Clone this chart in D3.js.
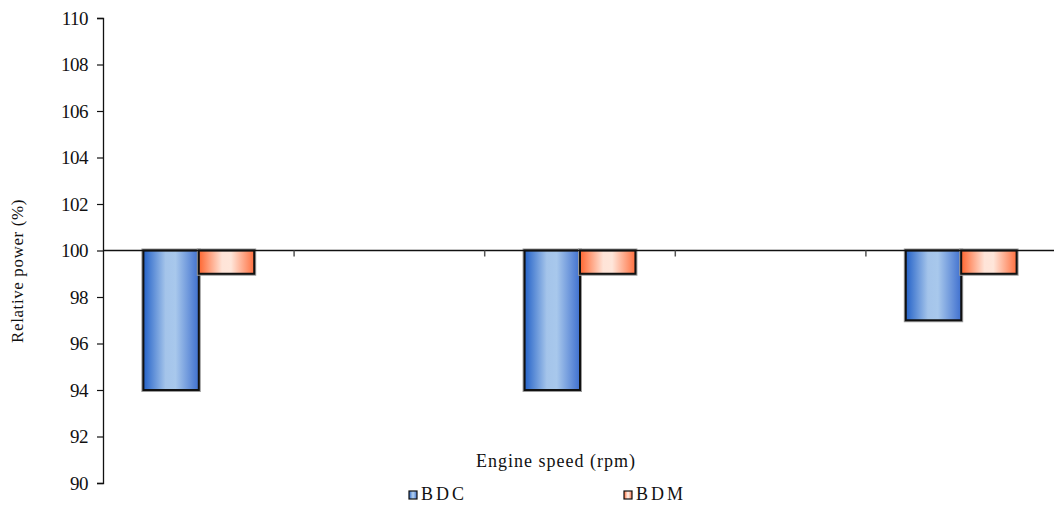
<!DOCTYPE html>
<html>
<head>
<meta charset="utf-8">
<script src="https://cdn.jsdelivr.net/npm/d3@7"></script>
<style>
  body { margin: 0; background: #fff; }
  svg text { font-family: "Liberation Serif", "Times New Roman", Times, serif !important; fill: #111; }
</style>
</head>
<body>
<div id="chart"></div>
<script>
// Data (5 category slots, bars only in slots 1, 3 and 5)
var categories = ["c1", "c2", "c3", "c4", "c5"];
var seriesNames = ["BDC", "BDM"];
var bdcValues = [94, null, 94, null, 97];
var bdmValues = [99, null, 99, null, 99];
var yTicks = [90, 92, 94, 96, 98, 100, 102, 104, 106, 108, 110];

var width = 1054, height = 506;

var svg = d3.select("#chart")
  .append("svg")
    .attr("width", width)
    .attr("height", height);

// Gradients for the bar fills
var defs = svg.append("defs");
function addGradient(id, stops) {
  var g = defs.append("linearGradient")
      .attr("id", id)
      .attr("x1", "0%").attr("x2", "100%")
      .attr("y1", "0%").attr("y2", "0%");
  stops.forEach(function(s) {
    g.append("stop").attr("offset", s[0]).attr("stop-color", s[1]);
  });
}
addGradient("grad-BDC", [["0%", "#2462c8"], ["40%", "#a4c4ea"], ["58%", "#a8c8ec"], ["100%", "#3f70cf"]]);
addGradient("grad-BDM", [["0%", "#ff6630"], ["42%", "#ffe4d8"], ["58%", "#ffe6da"], ["100%", "#ff7040"]]);

// Scales
var y = d3.scaleLinear().domain([90, 110]).range([483, 18]);
var x = d3.scaleBand().domain(categories).range([103.5, 1056.5]).padding(0);
var xInner = d3.scaleBand().domain(seriesNames)
    .range([0, x.bandwidth()]).paddingInner(0).paddingOuter(0.72);

var seriesData = { BDC: bdcValues, BDM: bdmValues };

// Y axis
var yAxis = svg.append("g")
    .attr("transform", "translate(103,0)")
    .call(d3.axisLeft(y).tickValues(yTicks).tickSize(6).tickPadding(9).tickFormat(d3.format("d")));
yAxis.attr("font-family", null);
yAxis.select(".domain").attr("stroke", "#111").attr("stroke-width", 1.3);
yAxis.selectAll(".tick line").attr("stroke", "#111").attr("stroke-width", 1.2);
yAxis.selectAll(".tick text")
    .style("font-size", "19px")
    .style("letter-spacing", "-0.5px")
    .attr("fill", "#111");

// Bars
seriesNames.forEach(function(name) {
  var vals = seriesData[name];
  var pts = categories.map(function(c, i) { return { cat: c, value: vals[i] }; })
      .filter(function(d) { return d.value !== null; });

  var g = svg.append("g");
  // soft grey halo
  g.selectAll("rect.halo")
    .data(pts)
    .enter().append("rect")
      .attr("class", "halo")
      .attr("x", function(d) { return x(d.cat) + xInner(name); })
      .attr("y", function(d) { return Math.min(y(d.value), y(100)); })
      .attr("width", xInner.bandwidth())
      .attr("height", function(d) { return Math.abs(y(d.value) - y(100)); })
      .attr("fill", "none")
      .attr("stroke", "#9a9a9a")
      .attr("stroke-width", 4);
  g.selectAll("rect.bar")
    .data(pts)
    .enter().append("rect")
      .attr("class", "bar")
      .attr("x", function(d) { return x(d.cat) + xInner(name); })
      .attr("y", function(d) { return Math.min(y(d.value), y(100)); })
      .attr("width", xInner.bandwidth())
      .attr("height", function(d) { return Math.abs(y(d.value) - y(100)); })
      .attr("fill", "url(#grad-" + name + ")")
      .attr("stroke", "#111")
      .attr("stroke-width", 2);
});

// X axis crossing at 100
var xAxis = svg.append("g")
    .attr("transform", "translate(0," + y(100) + ")");
xAxis.append("line")
    .attr("x1", 103).attr("x2", width)
    .attr("stroke", "#111").attr("stroke-width", 1.5);
xAxis.selectAll("line.tick")
  .data(categories.slice(1).concat(["end"]))
  .enter().append("line")
    .attr("class", "tick")
    .attr("x1", function(d, i) { return x.range()[0] + (i + 1) * x.bandwidth(); })
    .attr("x2", function(d, i) { return x.range()[0] + (i + 1) * x.bandwidth(); })
    .attr("y1", 0).attr("y2", 6)
    .attr("stroke", "#555").attr("stroke-width", 1.5);

// Y axis title
svg.append("text")
    .attr("transform", "translate(23,271) rotate(-90)")
    .attr("text-anchor", "middle")
    .style("font-size", "17px")
    .style("letter-spacing", "0.6px")
    .text("Relative power (%)");

// X axis title
svg.append("text")
    .attr("x", 556)
    .attr("y", 467)
    .attr("text-anchor", "middle")
    .style("font-size", "18px")
    .style("letter-spacing", "1px")
    .text("Engine speed (rpm)");

// Legend
var legendX = [409, 624];
var legend = svg.selectAll("g.legend")
  .data(seriesNames)
  .enter().append("g")
    .attr("class", "legend")
    .attr("transform", function(d, i) { return "translate(" + legendX[i] + ",491)"; });
legend.append("rect")
    .attr("width", 8).attr("height", 8)
    .attr("fill", function(d) { return "url(#grad-" + d + ")"; })
    .attr("stroke", "#111").attr("stroke-width", 1.2);
legend.append("text")
    .attr("x", 12)
    .attr("y", 9)
    .style("font-size", "18px")
    .style("letter-spacing", "3px")
    .text(function(d) { return d; });
</script>
</body>
</html>
